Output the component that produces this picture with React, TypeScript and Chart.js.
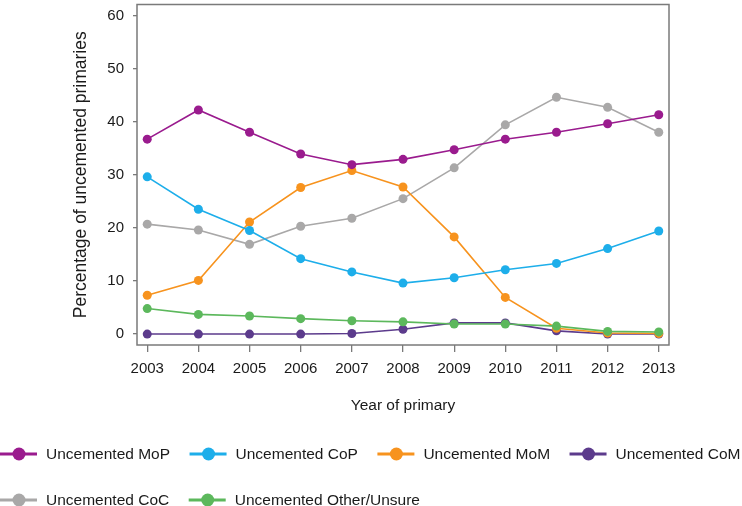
import React, { useEffect, useRef } from "react";
import { Chart, registerables } from "chart.js";

Chart.register(...registerables);

const years = [2003, 2004, 2005, 2006, 2007, 2008, 2009, 2010, 2011, 2012, 2013];
const yTicks = [0, 10, 20, 30, 40, 50, 60];

const seriesNames = [
  "Uncemented MoP",
  "Uncemented CoP",
  "Uncemented MoM",
  "Uncemented CoM",
  "Uncemented CoC",
  "Uncemented Other/Unsure",
];
const seriesColors = ["#9a1b8e", "#1daeea", "#f7931e", "#5c3b8c", "#a9a8a8", "#5cb85c"];

const mop = [36.7, 42.2, 38.0, 33.9, 31.9, 32.9, 34.7, 36.7, 38.0, 39.6, 41.3];
const cop = [29.6, 23.5, 19.5, 14.2, 11.7, 9.6, 10.6, 12.1, 13.3, 16.1, 19.4];
const mom = [7.3, 10.1, 21.1, 27.6, 30.8, 27.7, 18.3, 6.9, 1.1, 0.2, 0.1];
const com = [0, 0, 0, 0, 0.1, 0.9, 2.1, 2.1, 0.6, 0, 0];
const coc = [20.7, 19.6, 16.9, 20.3, 21.8, 25.5, 31.3, 39.4, 44.6, 42.7, 38.0];
const other = [4.8, 3.7, 3.4, 2.9, 2.5, 2.3, 1.9, 1.9, 1.5, 0.5, 0.4];

const seriesValues = [mop, cop, mom, com, coc, other];
const drawOrder = [2, 3, 4, 5, 6, 1];

const FONT = '"Liberation Sans", Arial, Helvetica, sans-serif';
const TEXT = "#1a1a1a";
const AXIS = "#7a7a7a";

const framePlugin = {
  id: "frame",
  beforeDatasetsDraw(chart: any) {
    const { ctx, chartArea } = chart;
    ctx.save();
    ctx.strokeStyle = AXIS;
    ctx.lineWidth = 1.5;
    ctx.strokeRect(chartArea.left, chartArea.top, chartArea.right - chartArea.left, chartArea.bottom - chartArea.top);
    ctx.restore();
  },
};

const legendPlugin = {
  id: "customLegend",
  afterDraw(chart: any) {
    const { ctx } = chart;
    const rows = [454, 500];
    const perRow = 4;
    ctx.save();
    ctx.font = `15.5px ${FONT}`;
    ctx.textBaseline = "middle";
    ctx.textAlign = "left";
    let x = 0;
    chart.data.datasets.forEach((ds: any, i: number) => {
      if (i % perRow === 0) x = 0;
      const y = rows[Math.floor(i / perRow)];
      ctx.strokeStyle = ds.borderColor;
      ctx.lineWidth = 3;
      ctx.beginPath();
      ctx.moveTo(x, y);
      ctx.lineTo(x + 37, y);
      ctx.stroke();
      ctx.fillStyle = ds.borderColor;
      ctx.beginPath();
      ctx.arc(x + 19, y, 6.5, 0, Math.PI * 2);
      ctx.fill();
      ctx.fillStyle = TEXT;
      ctx.fillText(ds.label, x + 46, y + 1);
      const w = ctx.measureText(ds.label).width;
      x += 46 + w + 19.5;
    });
    ctx.restore();
  },
};

export default function App() {
  const canvasRef = useRef<HTMLCanvasElement | null>(null);

  useEffect(() => {
    if (!canvasRef.current) return;
    const datasets = seriesNames.map((name, i) => ({
      label: name,
      data: years.map((yr, j) => ({ x: yr, y: seriesValues[i][j] })),
      borderColor: seriesColors[i],
      backgroundColor: seriesColors[i],
      pointBackgroundColor: seriesColors[i],
      pointBorderWidth: 0,
      pointRadius: 4.5,
      borderWidth: 1.6,
      tension: 0,
      order: drawOrder[i],
    }));

    const chart = new Chart(canvasRef.current, {
      type: "line",
      data: { datasets },
      options: {
        responsive: false,
        animation: false,
        maintainAspectRatio: false,
        layout: { padding: { left: 71, right: 73, top: 2, bottom: 90.7 } },
        plugins: { legend: { display: false }, tooltip: { enabled: false } },
        scales: {
          x: {
            type: "linear",
            min: 2002.8,
            max: 2013.2,
            afterBuildTicks: (s: any) => {
              s.ticks = years.map((v) => ({ value: v }));
            },
            afterFit: (s: any) => {
              s.height = 70.3;
              s.paddingLeft = 0;
              s.paddingRight = 0;
            },
            ticks: {
              callback: (v: any) => String(v),
              font: { family: FONT, size: 15 },
              color: TEXT,
              padding: 8,
              maxRotation: 0,
              autoSkip: false,
            },
            grid: { drawOnChartArea: false, drawTicks: true, tickLength: 7, color: AXIS, lineWidth: 1.3 },
            border: { display: false },
            title: {
              display: true,
              text: "Year of primary",
              font: { family: FONT, size: 15.5 },
              color: TEXT,
              padding: 0,
            },
          },
          y: {
            type: "linear",
            min: -2.06,
            max: 62.06,
            afterBuildTicks: (s: any) => {
              s.ticks = yTicks.map((v) => ({ value: v }));
            },
            afterFit: (s: any) => {
              s.width = 66;
              s.paddingTop = 0;
              s.paddingBottom = 0;
            },
            ticks: {
              callback: (v: any) => String(v),
              font: { family: FONT, size: 15 },
              color: TEXT,
              padding: 9,
            },
            grid: { drawOnChartArea: false, drawTicks: true, tickLength: 4, color: AXIS, lineWidth: 1.3 },
            border: { display: false },
            title: {
              display: true,
              text: "Percentage of uncemented primaries",
              font: { family: FONT, size: 17.5 },
              color: TEXT,
              padding: 0,
            },
          },
        },
      },
      plugins: [framePlugin, legendPlugin],
    } as any);

    return () => chart.destroy();
  }, []);

  return (
    <div style={{ position: "absolute", left: 0, top: 0, width: 742, height: 506, background: "#fff" }}>
      <canvas ref={canvasRef} width={742} height={506} style={{ display: "block", width: 742, height: 506 }} />
    </div>
  );
}
